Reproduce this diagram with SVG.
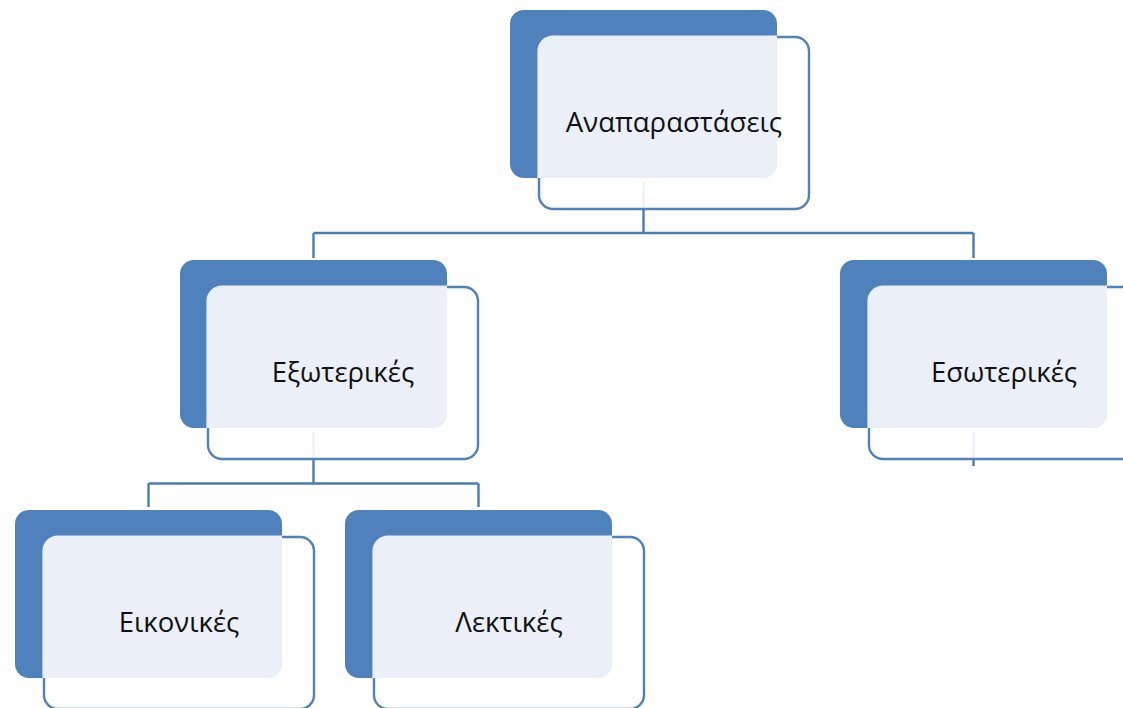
<svg xmlns="http://www.w3.org/2000/svg" width="1123" height="708" viewBox="0 0 1123 708">
<style>
.back{fill:#4F81BD}
.outl{fill:#FFFFFF;fill-opacity:0.9;stroke:#4F81BD;stroke-width:2.4}
.panel{fill:#EBF0F8;stroke:#EBF0F8;stroke-width:3.2}
.conn{fill:none;stroke:#4A7BB7;stroke-width:2.4}
.lbl{font-family:"Open Sans","Noto Sans","DejaVu Sans",sans-serif;font-size:27.5px;fill:#111;text-anchor:middle}
</style>
<defs>
<clipPath id="c0"><rect x="510" y="10" width="267" height="168" rx="14"/></clipPath>
<clipPath id="c1"><rect x="180" y="260" width="267" height="168" rx="14"/></clipPath>
<clipPath id="c2"><rect x="840" y="260" width="267" height="168" rx="14"/></clipPath>
<clipPath id="c3"><rect x="15" y="510" width="267" height="168" rx="14"/></clipPath>
<clipPath id="c4"><rect x="345" y="510" width="267" height="168" rx="14"/></clipPath>
</defs>
<g id="connectors">
<path class="conn" d="M643.5 182 V233 M313.5 233 H973.5 M313.5 233 V258 M973.5 233 V258"/>
<path class="conn" d="M313.5 432 V483.5 M148.5 483.5 H478.5 M148.5 483.5 V507 M478.5 483.5 V507"/>
<path class="conn" d="M973.5 432 V466"/>
</g>
<g id="n0">
<rect class="back" x="510" y="10" width="267" height="168" rx="14"/>
<rect class="outl" x="539" y="37" width="270" height="172" rx="14"/>
<rect class="panel" clip-path="url(#c0)" x="539" y="37" width="270" height="172" rx="14"/>
<text class="lbl" x="674" y="132">Αναπαραστάσεις</text>
</g>
<g id="n1">
<rect class="back" x="180" y="260" width="267" height="168" rx="14"/>
<rect class="outl" x="208" y="287" width="270" height="172" rx="14"/>
<rect class="panel" clip-path="url(#c1)" x="208" y="287" width="270" height="172" rx="14"/>
<text class="lbl" x="343" y="382">Εξωτερικές</text>
</g>
<g id="n2">
<rect class="back" x="840" y="260" width="267" height="168" rx="14"/>
<rect class="outl" x="869" y="287" width="270" height="172" rx="14"/>
<rect class="panel" clip-path="url(#c2)" x="869" y="287" width="270" height="172" rx="14"/>
<text class="lbl" x="1004" y="382">Εσωτερικές</text>
</g>
<g id="n3">
<rect class="back" x="15" y="510" width="267" height="168" rx="14"/>
<rect class="outl" x="44" y="537" width="270" height="172" rx="14"/>
<rect class="panel" clip-path="url(#c3)" x="44" y="537" width="270" height="172" rx="14"/>
<text class="lbl" x="179" y="632">Εικονικές</text>
</g>
<g id="n4">
<rect class="back" x="345" y="510" width="267" height="168" rx="14"/>
<rect class="outl" x="374" y="537" width="270" height="172" rx="14"/>
<rect class="panel" clip-path="url(#c4)" x="374" y="537" width="270" height="172" rx="14"/>
<text class="lbl" x="509" y="632">Λεκτικές</text>
</g>
</svg>
